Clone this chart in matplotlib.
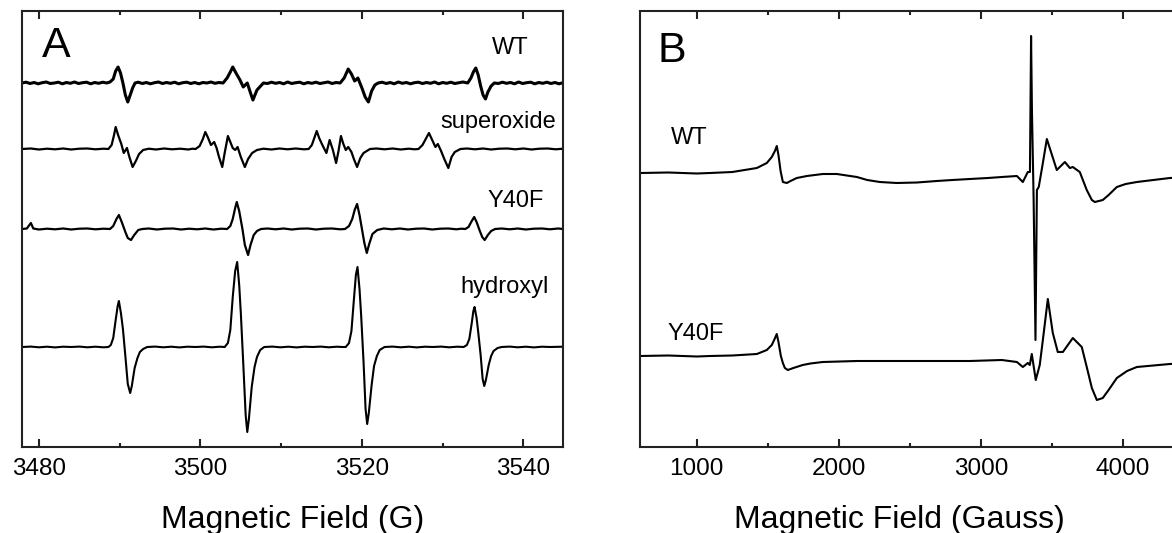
import matplotlib
matplotlib.use("Agg")
import matplotlib.pyplot as plt
from matplotlib.ticker import MultipleLocator

plt.rcParams['font.family'] = ['Liberation Sans', 'DejaVu Sans']

# ---- panel A: spin-trap spectra, field in G, signal in arbitrary units ----
wt_a = [
    (3477.9, 0), (3478.4, 0.8), (3478.9, -0.5), (3479.4, 0.5), (3479.9, -0.8), (3480.4, 0.3),
    (3480.9, 1), (3481.4, -0.5), (3481.9, 0), (3482.4, 0.8), (3482.9, -0.8), (3483.4, 0.5),
    (3483.9, -0.3), (3484.4, 1), (3484.9, -0.5), (3485.4, 0.3), (3485.9, 0.8), (3486.4, -0.8),
    (3486.9, 0.5), (3487.4, -0.3), (3487.9, 0.8), (3488.4, 0),
    (3488.8, 1), (3489.2, 4), (3489.5, 12), (3489.8, 16), (3490.1, 10), (3490.4, 0),
    (3490.7, -12), (3491.0, -19), (3491.3, -12), (3491.6, -5), (3491.9, 0),
    (3492.3, 0.8), (3492.8, -0.5), (3493.3, 0.5), (3493.8, -0.8), (3494.3, 0.3), (3494.8, 1),
    (3495.3, -0.5), (3495.8, 0.5), (3496.3, -0.3), (3496.8, 0.8), (3497.3, -0.8), (3497.8, 0.3),
    (3498.3, 0.8), (3498.8, -0.5), (3499.3, 0.5), (3499.8, -0.8), (3500.3, 0.5), (3500.8, 0),
    (3501.3, 1), (3501.8, -0.3), (3502.3, 0.5),
    (3502.8, 0), (3503.3, 5), (3503.7, 11), (3504.0, 16), (3504.4, 10), (3504.9, 3),
    (3505.3, -4), (3505.8, 0), (3506.2, -10), (3506.5, -17), (3507.0, -7), (3507.8, 0),
    (3508.3, -0.5), (3508.8, 0.8), (3509.3, -0.3), (3509.8, 0.5), (3510.3, -0.8), (3510.8, 1),
    (3511.3, -0.5), (3511.8, 0.3), (3512.3, 0.8), (3512.8, -0.8), (3513.3, 0.5), (3513.8, -0.3),
    (3514.3, 0.8), (3514.8, -0.5), (3515.3, 0.3), (3515.8, 1), (3516.3, -0.5), (3516.8, 0.5),
    (3517.3, 0), (3517.8, 5), (3518.3, 14), (3518.7, 9), (3519.1, 2), (3519.5, 5),
    (3520.0, -5), (3520.4, -14), (3520.8, -19), (3521.2, -8), (3521.6, -2), (3522.0, 0),
    (3522.5, 0.8), (3523.0, -0.5), (3523.5, 0.5), (3524.0, -0.8), (3524.5, 1), (3525.0, -0.3),
    (3525.5, 0.5), (3526.0, -0.8), (3526.5, 0.3), (3527.0, 0.8), (3527.5, -0.5), (3528.0, 0.5),
    (3528.5, -0.3), (3529.0, 1), (3529.5, -0.8), (3530.0, 0.5), (3530.5, -0.3), (3531.0, 0.8),
    (3531.5, -0.5), (3532.0, 0.3), (3532.5, 1),
    (3533.1, 0), (3533.5, 5), (3533.8, 11), (3534.1, 15), (3534.4, 8), (3534.7, -3),
    (3535.0, -12), (3535.3, -16), (3535.6, -9), (3536.0, -3), (3536.4, 0),
    (3536.9, -0.5), (3537.4, 0.8), (3537.9, -0.3), (3538.4, 0.5), (3538.9, -0.8), (3539.4, 1),
    (3539.9, -0.5), (3540.4, 0.3), (3540.9, 0.8), (3541.4, -0.8), (3541.9, 0.5), (3542.4, -0.3),
    (3542.9, 0.8), (3543.4, -0.5), (3543.9, 0.5), (3544.4, -0.8), (3544.9, 0.3),
]

superoxide_a = [
    (3477.9, 0), (3479.0, 0.5), (3480.0, -0.5), (3481.0, 0.3), (3482.0, -0.3), (3483.0, 0.5),
    (3484.0, -0.5), (3485.0, 0.3), (3486.0, 0.5), (3487.0, -0.3), (3488.0, 0.3),
    (3488.6, 0), (3489.0, 4), (3489.3, 14), (3489.5, 22), (3489.8, 14), (3490.2, 5),
    (3490.5, -4), (3490.9, 1), (3491.2, -8), (3491.6, -18), (3492.0, -12), (3492.4, -5),
    (3492.9, -1),
    (3493.6, 0.3), (3494.5, -0.5), (3495.5, 0.5), (3496.5, -0.3), (3497.5, 0.3), (3498.5, -0.5),
    (3499.0, 0.3),
    (3499.4, 0), (3499.9, 3), (3500.3, 10), (3500.6, 17), (3500.9, 12), (3501.3, 4),
    (3501.7, 7), (3502.0, 1), (3502.3, -8), (3502.7, -18), (3503.0, -4), (3503.4, 13),
    (3503.7, 7), (3504.0, 1), (3504.3, -1), (3504.6, 2), (3505.0, -8), (3505.5, -18),
    (3505.9, -10), (3506.4, -4), (3507.0, -1),
    (3507.8, 0.3), (3508.8, -0.5), (3509.8, 0.5), (3510.8, -0.3), (3511.8, 0.5), (3512.8, -0.3),
    (3513.4, 0), (3513.8, 4), (3514.1, 11), (3514.4, 18), (3514.7, 11), (3515.1, 4),
    (3515.6, -4), (3516.0, 9), (3516.4, -1), (3516.8, -14), (3517.1, -2), (3517.4, 13),
    (3517.7, 5), (3518.0, -1), (3518.3, 2), (3518.7, -3), (3519.0, -10), (3519.4, -18),
    (3519.8, -9), (3520.2, -4), (3521.0, 0),
    (3521.8, 0.5), (3522.8, -0.3), (3523.8, 0.5), (3524.8, -0.5), (3525.8, 0.3), (3526.5, -0.3),
    (3527.0, 0), (3527.5, 4), (3527.9, 10), (3528.3, 16), (3528.7, 9), (3529.1, 2),
    (3529.4, 5), (3529.8, -2), (3530.2, -10), (3530.7, -19), (3531.1, -8), (3531.5, -3),
    (3532.2, 0),
    (3533.0, 0.5), (3534.0, -0.3), (3535.0, 0.5), (3536.0, -0.5), (3537.0, 0.3), (3538.0, 0.5),
    (3539.0, -0.3), (3540.0, 0.5), (3541.0, -0.5), (3542.0, 0.3), (3543.0, 0.5), (3544.0, -0.3),
    (3544.9, 0.3),
]

y40f_a = [
    (3477.9, 0), (3478.5, 0.5), (3479.0, 6), (3479.3, 0.5), (3480.0, -0.5), (3481.0, 0.3),
    (3482.0, -0.3), (3483.0, 0.5), (3484.0, -0.5), (3485.0, 0.3), (3486.0, 0.5), (3487.0, -0.3),
    (3488.0, 0.3),
    (3488.8, 0), (3489.2, 3), (3489.6, 10), (3489.9, 14), (3490.3, 6), (3490.7, -3),
    (3491.0, -9), (3491.4, -11), (3491.8, -6), (3492.3, -1), (3492.8, 0),
    (3493.6, 0.5), (3494.6, -0.5), (3495.6, 0.3), (3496.6, 0.5), (3497.6, -0.5), (3498.6, 0.3),
    (3499.6, -0.3), (3500.6, 0.5), (3501.6, -0.5), (3502.6, 0.3),
    (3503.3, 0), (3503.7, 3), (3504.0, 10), (3504.3, 21), (3504.5, 27), (3504.8, 18),
    (3505.2, 0), (3505.5, -16), (3505.9, -26), (3506.2, -16), (3506.6, -6), (3507.0, -2),
    (3507.5, 0),
    (3508.3, 0.5), (3509.3, -0.3), (3510.3, 0.5), (3511.3, -0.5), (3512.3, 0.3), (3513.3, 0.5),
    (3514.3, -0.5), (3515.3, 0.3), (3516.3, 0.5), (3517.3, -0.3),
    (3517.9, 0), (3518.4, 3), (3518.8, 10), (3519.1, 19), (3519.4, 25), (3519.7, 14),
    (3520.0, 0), (3520.3, -14), (3520.6, -24), (3520.9, -15), (3521.3, -5), (3521.9, -1),
    (3522.7, 0.5), (3523.7, -0.3), (3524.7, 0.5), (3525.7, -0.5), (3526.7, 0.3), (3527.7, 0.5),
    (3528.7, -0.5), (3529.7, 0.3), (3530.7, 0.5), (3531.7, -0.3), (3532.3, 0.3),
    (3532.8, 0), (3533.2, 2), (3533.6, 8), (3533.9, 12), (3534.2, 7), (3534.6, -2),
    (3534.9, -8), (3535.2, -11), (3535.6, -6), (3536.0, -2), (3536.5, 0),
    (3537.3, 0.5), (3538.3, -0.3), (3539.3, 0.5), (3540.3, -0.5), (3541.3, 0.3), (3542.3, 0.5),
    (3543.3, -0.3), (3544.3, 0.5), (3544.9, 0),
]

hydroxyl_a = [
    (3477.9, 0), (3479.0, 0.4), (3480.0, -0.3), (3481.0, 0.3), (3482.0, -0.4), (3483.0, 0.3),
    (3484.0, 0), (3485.0, 0.4), (3486.0, -0.3), (3487.0, 0.3), (3488.0, -0.3),
    (3488.6, 0), (3488.9, 2), (3489.2, 9), (3489.5, 27), (3489.75, 41), (3489.9, 46),
    (3490.15, 34), (3490.4, 18), (3490.7, -9), (3491.0, -37), (3491.3, -46), (3491.5, -39),
    (3491.85, -21), (3492.2, -11), (3492.5, -5), (3492.9, -2), (3493.4, 0),
    (3494.4, 0.4), (3495.4, -0.3), (3496.4, 0.3), (3497.4, -0.4), (3498.4, 0.3),
    (3499.4, 0), (3500.4, 0.4), (3501.4, -0.3), (3502.4, 0.3),
    (3503.0, 0), (3503.4, 4), (3503.7, 17), (3504.0, 50), (3504.3, 76), (3504.55, 85),
    (3504.8, 62), (3505.0, 34), (3505.3, -16), (3505.6, -68), (3505.8, -85), (3506.0, -72),
    (3506.35, -40), (3506.7, -20), (3507.0, -10), (3507.4, -3), (3507.9, 0),
    (3508.9, 0.4), (3509.9, -0.3), (3510.9, 0.3), (3511.9, -0.4), (3512.9, 0.3),
    (3513.9, 0), (3514.9, 0.4), (3515.9, -0.3), (3516.9, 0.3), (3517.5, 0),
    (3518.0, 0), (3518.4, 4), (3518.7, 16), (3519.0, 47), (3519.25, 72), (3519.45, 80),
    (3519.7, 58), (3519.9, 32), (3520.2, -15), (3520.45, -62), (3520.65, -77),
    (3520.85, -66), (3521.2, -38), (3521.5, -19), (3521.85, -9), (3522.2, -3), (3522.8, 0),
    (3523.8, 0.4), (3524.8, -0.3), (3525.8, 0.3), (3526.8, -0.4), (3527.8, 0.3),
    (3528.8, 0), (3529.8, 0.4), (3530.8, -0.3), (3531.8, 0.3),
    (3532.6, 0), (3533.0, 2), (3533.3, 8), (3533.6, 24), (3533.8, 36), (3533.95, 40),
    (3534.2, 29), (3534.4, 15), (3534.7, -8), (3534.95, -32), (3535.15, -39),
    (3535.35, -33), (3535.7, -18), (3536.0, -9), (3536.3, -4), (3536.8, -1), (3537.3, 0),
    (3538.3, 0.4), (3539.3, -0.3), (3540.3, 0.3), (3541.3, -0.4), (3542.3, 0.3),
    (3543.3, 0), (3544.9, 0.3),
]

# ---- panel B: wide field scan, field in Gauss ----
wt_b = [
    (600, 0), (800, 0.5), (1000, -0.5), (1092, 0), (1250, 1), (1423, 5), (1493, 10),
    (1528, 16), (1550, 22), (1563, 27), (1575, 18), (1590, 2), (1606, -9), (1634, -10),
    (1660, -8), (1704, -5), (1740, -4), (1775, -3), (1887, -1), (1986, -1), (2127, -4),
    (2200, -7), (2289, -9), (2408, -10), (2550, -9.5), (2690, -8), (2800, -7), (2923, -6),
    (3050, -5), (3148, -4), (3254, -3), (3296, -9), (3331, 1), (3346, 1), (3354, 137),
    (3360, 63), (3372, -27), (3385, -167), (3395, -17), (3408, -14), (3437, 10), (3465, 34),
    (3535, 3), (3592, 11), (3627, 5), (3648, 6), (3697, 1), (3746, -17), (3782, -27),
    (3803, -29), (3859, -27), (3900, -22), (3958, -14), (4020, -11), (4099, -9), (4331, -5),
    (4500, -4),
]

y40f_b = [
    (600, 0), (800, 0.5), (1000, -0.5), (1092, 0), (1250, 0.5), (1423, 2), (1493, 6),
    (1528, 11), (1548, 17), (1563, 22), (1575, 14), (1592, 0), (1606, -7), (1620, -12),
    (1641, -14), (1680, -12), (1746, -9), (1800, -7.5), (1887, -6), (2127, -5), (2400, -5),
    (2923, -5), (3148, -4), (3254, -6), (3296, -11), (3331, -7), (3345, -9), (3359, 2),
    (3387, -24), (3415, -9), (3437, 16), (3472, 57), (3507, 23), (3542, 4), (3578, 4),
    (3648, 18), (3711, 9), (3746, -11), (3782, -32), (3817, -44), (3859, -42), (3900, -34),
    (3958, -22), (4030, -15), (4099, -11), (4331, -8), (4500, -7),
]

labels_a = ['WT', 'superoxide', 'Y40F', 'hydroxyl']
labels_b = ['WT', 'Y40F']

# layout: vertical offsets (axis units, 0..436) for each trace
offsets_a = [364, 298, 218, 100]
offsets_b = [274, 91]

fig = plt.figure(figsize=(11.72, 5.33), dpi=100)
ax_a = fig.add_axes([0.01877, 0.16135, 0.46160, 0.81801])
ax_b = fig.add_axes([0.54608, 0.16135, 0.47253, 0.81801])

widths_a = [2.2, 1.6, 1.6, 1.5]
for trace, off, lw in zip([wt_a, superoxide_a, y40f_a, hydroxyl_a], offsets_a, widths_a):
    x, y = zip(*trace)
    ax_a.plot(x, [off + v for v in y], color='black', lw=lw)

for trace, off in zip([wt_b, y40f_b], offsets_b):
    x, y = zip(*trace)
    ax_b.plot(x, [off + v for v in y], color='black', lw=1.5)

ax_a.set_xlim(3477.9, 3544.9)
ax_b.set_xlim(600, 4500)
ax_a.xaxis.set_major_locator(MultipleLocator(20))
ax_a.xaxis.set_minor_locator(MultipleLocator(10))
ax_b.xaxis.set_major_locator(MultipleLocator(1000))
ax_b.xaxis.set_minor_locator(MultipleLocator(500))

for ax in (ax_a, ax_b):
    ax.set_ylim(0, 436)
    ax.set_yticks([])
    for s in ax.spines.values():
        s.set_linewidth(1.5)
        s.set_color('#222222')
    ax.tick_params(axis='x', which='both', direction='in', top=True, bottom=True,
                   width=1.5, color='#222222', labelsize=17.5, pad=8)
    ax.tick_params(axis='x', which='major', length=6)
    ax.tick_params(axis='x', which='minor', length=3)

ax_a.set_xlabel('Magnetic Field (G)', fontsize=23)
ax_b.set_xlabel('Magnetic Field (Gauss)', fontsize=23)
# label B centred under the visible part of the panel
ax_a.xaxis.set_label_coords(0.5, -0.132)
ax_b.xaxis.set_label_coords((899 - 640) / 553.8, -0.132)

ax_a.text(3480.4, 390, 'A', fontsize=31, va='baseline', ha='left')
ax_b.text(725, 385, 'B', fontsize=31, va='baseline', ha='left')

label_pos_a = [(3540.6, 393), (3544.1, 319), (3542.5, 240), (3543.1, 154)]
for lab, (lx, ly) in zip(labels_a, label_pos_a):
    ax_a.text(lx, ly, lab, fontsize=17, ha='right', va='baseline')

label_pos_b = [(817, 303), (796, 107)]
for lab, (lx, ly) in zip(labels_b, label_pos_b):
    ax_b.text(lx, ly, lab, fontsize=17, ha='left', va='baseline')

fig.savefig('out.png', dpi=100)
